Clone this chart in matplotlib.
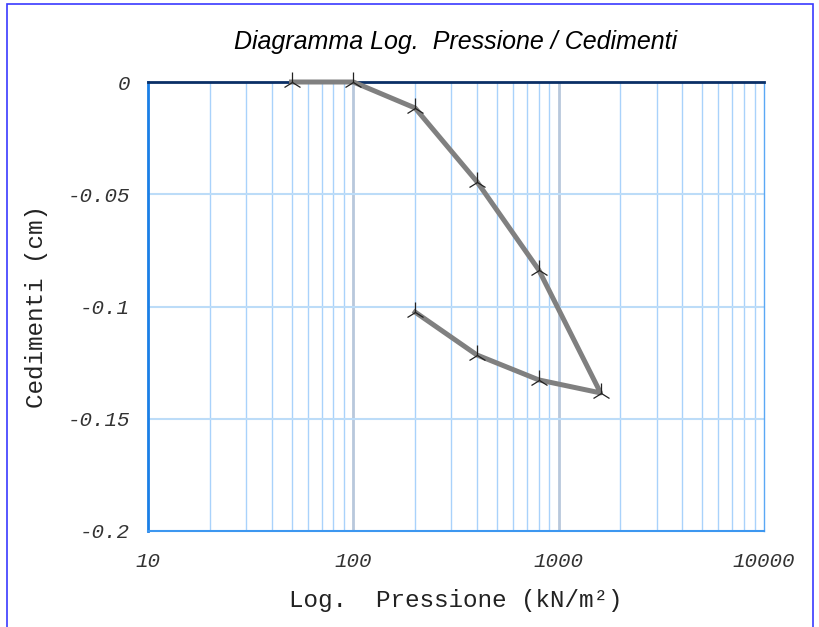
import matplotlib
matplotlib.use("Agg")
import matplotlib.pyplot as plt
from matplotlib.patches import Rectangle

# Loading / unloading path of the oedometer test
pressione = [50, 100, 200, 400, 800, 1600, 800, 400, 200]
cedimenti = [0.0, 0.0, -0.0116, -0.0444, -0.0837, -0.1385, -0.1327, -0.1216, -0.1025]

x_ticks = [10, 100, 1000, 10000]
x_tick_labels = ["10", "100", "1000", "10000"]
y_ticks = [0, -0.05, -0.1, -0.15, -0.2]
y_tick_labels = ["0", "-0.05", "-0.1", "-0.15", "-0.2"]

fig = plt.figure(figsize=(8.2, 6.27), dpi=100)
ax = fig.add_axes([148 / 820, 1 - 531 / 627, (764 - 148) / 820, (531 - 82) / 627])

ax.set_xscale("log")
ax.set_xlim(10, 10000)
ax.set_ylim(-0.2, 0)

# grid: minor decades light blue, majors slightly greyer
for dec in [10, 100, 1000]:
    for k in range(2, 10):
        ax.axvline(dec * k, color="#a9d2fb", lw=1, zorder=0)
for v in [100, 1000]:
    ax.axvline(v, color="#b8c8dc", lw=2, zorder=0)
for v in [-0.05, -0.1, -0.15]:
    ax.axhline(v, color="#bcdcf8", lw=1.5, zorder=0)

ax.plot(pressione, cedimenti, color="#808080", lw=3.6, zorder=3,
        marker="2", markersize=14, markeredgecolor="#222222", markeredgewidth=0.9,
        clip_on=False)

ax.spines["left"].set_color("#1a7fe6")
ax.spines["left"].set_linewidth(2)
ax.spines["bottom"].set_color("#3d97f0")
ax.spines["bottom"].set_linewidth(1.5)
ax.spines["top"].set_color("#0a2f66")
ax.spines["top"].set_linewidth(2)
ax.spines["right"].set_color("#5aa8f5")
ax.spines["right"].set_linewidth(1)

ax.set_xticks(x_ticks)
ax.set_xticklabels(x_tick_labels)
ax.set_xticks([], minor=True)
ax.set_yticks(y_ticks)
ax.set_yticklabels(y_tick_labels)
ax.tick_params(axis="x", length=0, pad=15)
ax.tick_params(axis="y", length=0, pad=13)
for lab in ax.get_xticklabels() + ax.get_yticklabels():
    lab.set_fontfamily("Liberation Mono")
    lab.set_fontstyle("italic")
    lab.set_fontsize(15)
    lab.set_color("#333333")

ax.set_xlabel("Log.  Pressione (kN/m²)", fontfamily="Liberation Mono", fontsize=17.5,
              labelpad=13, color="#222222")
ax.set_ylabel("Cedimenti (cm)", fontfamily="Liberation Mono", fontsize=17.5,
              labelpad=14, color="#222222")
ax.set_title("Diagramma Log.  Pressione / Cedimenti", fontfamily="Liberation Sans",
             fontstyle="italic", fontsize=18, pad=24)

# outer blue frame
fig.patches.append(Rectangle((7 / 820, -0.01), 806 / 820, 1.01 - 4 / 627,
                             transform=fig.transFigure, fill=False,
                             edgecolor="#3a3aff", lw=1.2))

fig.savefig("out.png", dpi=100)
